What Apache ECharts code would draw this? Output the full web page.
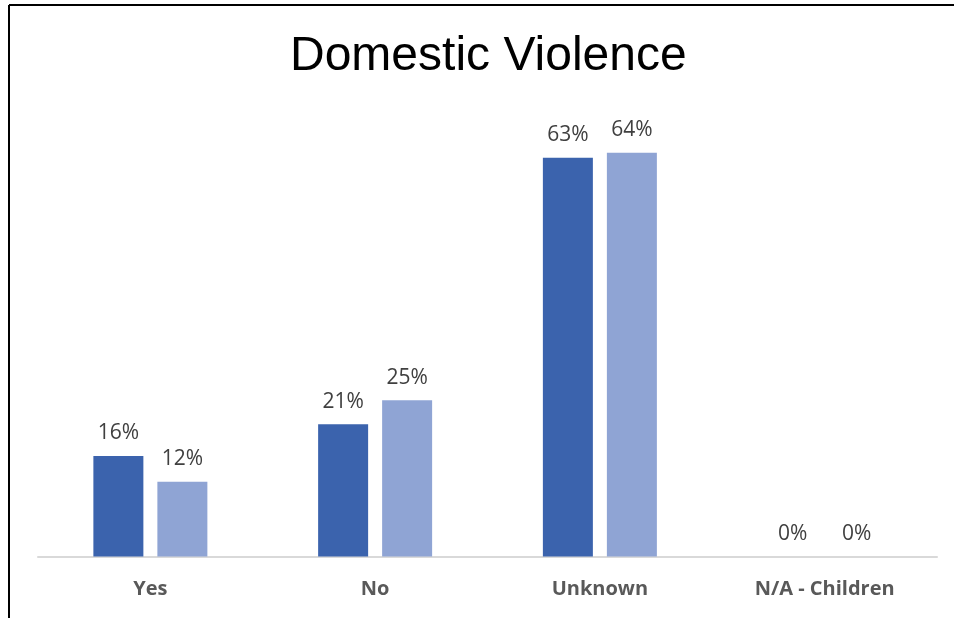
<!DOCTYPE html>
<html><head><meta charset="utf-8">
<script src="https://cdn.jsdelivr.net/npm/echarts@6/dist/echarts.min.js"></script>
<style>html,body{margin:0;padding:0;background:#fff}#c{width:954px;height:618px}</style>
</head><body><div id="c"></div>
<script>
var categories = ['Yes', 'No', 'Unknown', 'N/A - Children'];
var series1 = [15.9, 20.9, 63.0, 0];
var series2 = [11.8, 24.7, 63.8, 0];
var titleText = 'Domestic Violence';

var chart = echarts.init(document.getElementById('c'), null, {renderer: 'canvas'});
var lbl = {
  show: true, position: 'top', distance: 12,
  fontFamily: 'Open Sans', fontSize: 21, color: '#404040',
  formatter: function (p) { return Math.round(p.value) + '%'; }
};
chart.setOption({
  animation: false,
  backgroundColor: '#fff',
  title: {
    text: titleText, left: 285, top: 28,
    textStyle: {fontFamily: 'Liberation Sans', fontSize: 48, fontWeight: 'normal', color: '#000'}
  },
  grid: {left: 38, right: 17, top: 113.5, bottom: 61.5, containLabel: false},
  xAxis: {
    type: 'category', data: categories,
    axisLine: {show: true, lineStyle: {color: '#d9d9d9', width: 2}},
    axisTick: {show: false},
    axisLabel: {margin: 23, fontFamily: 'Open Sans', fontWeight: 'bold', fontSize: 20, color: '#595959'}
  },
  yAxis: {type: 'value', min: 0, max: 70, show: false, splitLine: {show: false}},
  series: [
    {type: 'bar', data: series1, barWidth: 50, barGap: '28%', itemStyle: {color: '#3B63AD'}, label: lbl},
    {type: 'bar', data: series2, barWidth: 50, barGap: '28%', itemStyle: {color: '#8FA4D4'}, label: lbl}
  ],
  graphic: [
    {type: 'line', shape: {x1: 9, y1: 5, x2: 954, y2: 5}, style: {stroke: '#000', lineWidth: 2}, silent: true},
    {type: 'line', shape: {x1: 9, y1: 5, x2: 9, y2: 618}, style: {stroke: '#000', lineWidth: 2}, silent: true}
  ]
});
</script></body></html>
